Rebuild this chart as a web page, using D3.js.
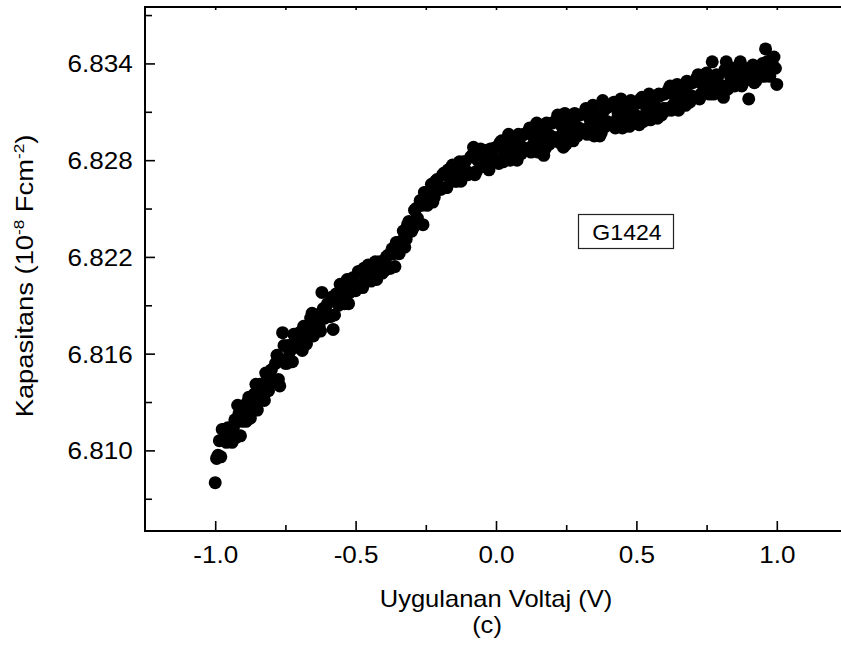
<!DOCTYPE html>
<html>
<head>
<meta charset="utf-8">
<script src="https://cdn.jsdelivr.net/npm/d3@7"></script>
<style>
  html, body { margin: 0; padding: 0; background: #fff; }
  svg { display: block; }
  text { font-family: "Liberation Sans", Arial, sans-serif; fill: #000; }
</style>
</head>
<body>
<svg id="chart" width="841" height="649"></svg>
<script>
// Voltage sweep: -1.00 V to +1.00 V, read out in 0.01 V steps on two interleaved passes
const sweepStart = -1.0;
const sweepStep = 0.01;
const halfStepStart = -0.995;

// Capacitance (10^-8 F cm^-2) on the whole-step grid, 10 values per row
const capacitance = [
  6.8080, 6.8097, 6.8096, 6.8113, 6.8105, 6.8113, 6.8105, 6.8119, 6.8128, 6.8109, // -1.00 .. -0.91
  6.8123, 6.8118, 6.8133, 6.8125, 6.8135, 6.8125, 6.8141, 6.8136, 6.8148, 6.8137, // -0.90 .. -0.81
  6.8150, 6.8143, 6.8159, 6.8140, 6.8173, 6.8154, 6.8165, 6.8155, 6.8172, 6.8164, // -0.80 .. -0.71
  6.8173, 6.8162, 6.8176, 6.8172, 6.8182, 6.8171, 6.8184, 6.8177, 6.8198, 6.8182, // -0.70 .. -0.61
  6.8191, 6.8183, 6.8175, 6.8197, 6.8190, 6.8199, 6.8191, 6.8206, 6.8198, 6.8207, // -0.60 .. -0.51
  6.8199, 6.8211, 6.8203, 6.8213, 6.8206, 6.8214, 6.8206, 6.8217, 6.8209, 6.8216, // -0.50 .. -0.41
  6.8211, 6.8220, 6.8213, 6.8225, 6.8214, 6.8229, 6.8226, 6.8236, 6.8231, 6.8242, // -0.40 .. -0.31
  6.8236, 6.8249, 6.8244, 6.8255, 6.8240, 6.8260, 6.8254, 6.8265, 6.8257, 6.8268, // -0.30 .. -0.21
  6.8262, 6.8271, 6.8263, 6.8274, 6.8267, 6.8275, 6.8267, 6.8279, 6.8271, 6.8279, // -0.20 .. -0.11
  6.8271, 6.8282, 6.8288, 6.8273, 6.8282, 6.8276, 6.8286, 6.8277, 6.8287, 6.8280, // -0.10 .. -0.01
  6.8288, 6.8278, 6.8292, 6.8283, 6.8289, 6.8280, 6.8291, 6.8287, 6.8296, 6.8284, //  0.00 ..  0.09
  6.8296, 6.8287, 6.8300, 6.8289, 6.8295, 6.8285, 6.8298, 6.8283, 6.8303, 6.8290, //  0.10 ..  0.19
  6.8303, 6.8292, 6.8308, 6.8295, 6.8288, 6.8290, 6.8305, 6.8299, 6.8309, 6.8295, //  0.20 ..  0.29
  6.8308, 6.8298, 6.8312, 6.8300, 6.8306, 6.8295, 6.8309, 6.8295, 6.8317, 6.8301, //  0.30 ..  0.39
  6.8313, 6.8302, 6.8316, 6.8305, 6.8311, 6.8300, 6.8313, 6.8308, 6.8317, 6.8303, //  0.40 ..  0.49
  6.8315, 6.8302, 6.8319, 6.8308, 6.8314, 6.8305, 6.8318, 6.8312, 6.8321, 6.8308, //  0.50 ..  0.59
  6.8321, 6.8311, 6.8326, 6.8314, 6.8321, 6.8311, 6.8325, 6.8319, 6.8329, 6.8316, //  0.60 ..  0.69
  6.8328, 6.8319, 6.8333, 6.8321, 6.8327, 6.8334, 6.8321, 6.8341, 6.8326, 6.8332, //  0.70 ..  0.79
  6.8323, 6.8319, 6.8341, 6.8327, 6.8335, 6.8326, 6.8333, 6.8341, 6.8328, 6.8335, //  0.80 ..  0.89
  6.8318, 6.8335, 6.8328, 6.8338, 6.8332, 6.8340, 6.8349, 6.8337, 6.8342, 6.8344, //  0.90 ..  0.99
  6.8327                                                                           //  1.00
];

// Capacitance on the half-step grid (-0.995 .. 0.995), 10 values per row
const capacitanceHalfStep = [
  6.8095, 6.8106, 6.8113, 6.8108, 6.8114, 6.8107, 6.8114, 6.8108, 6.8123, 6.8118, // -0.995 .. -0.905
  6.8119, 6.8130, 6.8120, 6.8131, 6.8141, 6.8130, 6.8137, 6.8131, 6.8146, 6.8142, // -0.895 .. -0.805
  6.8143, 6.8154, 6.8144, 6.8156, 6.8165, 6.8154, 6.8161, 6.8155, 6.8170, 6.8165, // -0.795 .. -0.705
  6.8166, 6.8177, 6.8166, 6.8176, 6.8185, 6.8174, 6.8181, 6.8174, 6.8188, 6.8183, // -0.695 .. -0.605
  6.8184, 6.8195, 6.8184, 6.8194, 6.8203, 6.8192, 6.8199, 6.8191, 6.8206, 6.8200, // -0.595 .. -0.505
  6.8201, 6.8211, 6.8201, 6.8209, 6.8215, 6.8205, 6.8211, 6.8206, 6.8217, 6.8210, // -0.495 .. -0.405
  6.8212, 6.8221, 6.8213, 6.8222, 6.8229, 6.8222, 6.8230, 6.8226, 6.8240, 6.8236, // -0.395 .. -0.305
  6.8238, 6.8250, 6.8241, 6.8252, 6.8260, 6.8252, 6.8259, 6.8254, 6.8267, 6.8262, // -0.295 .. -0.205
  6.8262, 6.8272, 6.8263, 6.8271, 6.8277, 6.8267, 6.8273, 6.8267, 6.8279, 6.8273, // -0.195 .. -0.105
  6.8272, 6.8283, 6.8271, 6.8280, 6.8287, 6.8276, 6.8282, 6.8274, 6.8287, 6.8281, // -0.095 .. -0.005
  6.8280, 6.8291, 6.8279, 6.8288, 6.8296, 6.8283, 6.8289, 6.8280, 6.8294, 6.8288, //  0.005 ..  0.095
  6.8287, 6.8298, 6.8285, 6.8294, 6.8303, 6.8290, 6.8295, 6.8287, 6.8302, 6.8295, //  0.105 ..  0.195
  6.8294, 6.8305, 6.8291, 6.8301, 6.8309, 6.8295, 6.8301, 6.8292, 6.8307, 6.8300, //  0.205 ..  0.295
  6.8299, 6.8309, 6.8296, 6.8305, 6.8314, 6.8300, 6.8306, 6.8297, 6.8311, 6.8304, //  0.305 ..  0.395
  6.8303, 6.8314, 6.8300, 6.8309, 6.8318, 6.8304, 6.8309, 6.8301, 6.8315, 6.8308, //  0.405 ..  0.495
  6.8307, 6.8318, 6.8304, 6.8313, 6.8321, 6.8308, 6.8314, 6.8306, 6.8320, 6.8312, //  0.505 ..  0.595
  6.8312, 6.8324, 6.8311, 6.8320, 6.8327, 6.8315, 6.8321, 6.8314, 6.8327, 6.8320, //  0.605 ..  0.695
  6.8319, 6.8331, 6.8318, 6.8327, 6.8333, 6.8322, 6.8328, 6.8321, 6.8333, 6.8326, //  0.705 ..  0.795
  6.8326, 6.8336, 6.8324, 6.8332, 6.8337, 6.8327, 6.8332, 6.8326, 6.8337, 6.8331, //  0.805 ..  0.895
  6.8330, 6.8339, 6.8329, 6.8336, 6.8339, 6.8332, 6.8341, 6.8332, 6.8339, 6.8337  //  0.905 ..  0.995
];

// Axis ticks
const xMajorTicks = [-1.0, -0.5, 0.0, 0.5, 1.0];
const xMinorTicks = [-0.75, -0.25, 0.25, 0.75];
const yMajorTicks = [6.810, 6.816, 6.822, 6.828, 6.834];
const yMinorTicks = [6.807, 6.813, 6.819, 6.825, 6.831, 6.837];

// Text labels
const xTitle = "Uygulanan Voltaj (V)";
const panelTag = "(c)";
const sampleName = "G1424";

const points = capacitance.map((c, i) => ({ v: sweepStart + i * sweepStep, c }))
  .concat(capacitanceHalfStep.map((c, i) => ({ v: halfStepStart + i * sweepStep, c })));

const svg = d3.select("#chart");
const plot = { left: 145, right: 847, top: 7, bottom: 531 };
const fontSize = 23.5;
const stretch = 1.11;
const fontStack = "'Liberation Sans', Arial, sans-serif";

const x = d3.scaleLinear().domain([-1.25, 1.25]).range([plot.left, plot.right]);
const y = d3.scaleLinear().domain([6.805, 6.8375]).range([plot.bottom, plot.top]);

// Data points
svg.append("g")
  .selectAll("circle")
  .data(points)
  .join("circle")
  .attr("cx", d => x(d.v))
  .attr("cy", d => y(d.c))
  .attr("r", 6.5)
  .attr("fill", "#000");

function styleAxis(g) {
  g.selectAll(".domain").remove();
  g.selectAll(".tick line").attr("stroke", "#000").attr("stroke-width", 1.6);
}

// Bottom axis: major ticks with labels, minor ticks without (all pointing inward)
const gBottomMajor = svg.append("g").attr("transform", `translate(0,${plot.bottom})`)
  .call(d3.axisBottom(x).tickValues(xMajorTicks).tickSize(-10).tickSizeOuter(0)
    .tickFormat(d => d3.format(".1f")(d).replace("\u2212", "-")));
styleAxis(gBottomMajor);
gBottomMajor.selectAll(".tick text")
  .attr("y", 31.7).attr("dy", 0)
  .attr("transform", `scale(${stretch},1)`)
  .style("font-size", fontSize + "px")
  .style("font-family", fontStack);

const gBottomMinor = svg.append("g").attr("transform", `translate(0,${plot.bottom})`)
  .call(d3.axisBottom(x).tickValues(xMinorTicks).tickSize(-6).tickSizeOuter(0).tickFormat(""));
styleAxis(gBottomMinor);

// Top axis: short inward ticks, no labels
const gTop = svg.append("g").attr("transform", `translate(0,${plot.top})`)
  .call(d3.axisTop(x).tickValues(xMajorTicks.concat(xMinorTicks)).tickSize(-3).tickSizeOuter(0).tickFormat(""));
styleAxis(gTop);

// Left axis: major ticks with labels, minor ticks without
const gLeftMajor = svg.append("g").attr("transform", `translate(${plot.left},0)`)
  .call(d3.axisLeft(y).tickValues(yMajorTicks).tickSize(-10).tickSizeOuter(0).tickPadding(11)
    .tickFormat(d3.format(".3f")));
styleAxis(gLeftMajor);
gLeftMajor.selectAll(".tick text")
  .attr("dy", "0.36em")
  .attr("transform", `scale(${stretch},1)`)
  .style("font-size", fontSize + "px")
  .style("font-family", fontStack);

const gLeftMinor = svg.append("g").attr("transform", `translate(${plot.left},0)`)
  .call(d3.axisLeft(y).tickValues(yMinorTicks).tickSize(-7).tickSizeOuter(0).tickFormat(""));
styleAxis(gLeftMinor);

// Frame lines
const frame = svg.append("g").attr("stroke", "#000").attr("stroke-width", 2).attr("fill", "none");
frame.append("line").attr("x1", plot.left).attr("x2", plot.left).attr("y1", plot.top - 1).attr("y2", plot.bottom + 1);
frame.append("line").attr("x1", plot.left).attr("x2", plot.right).attr("y1", plot.bottom).attr("y2", plot.bottom);
frame.append("line").attr("x1", plot.left).attr("x2", plot.right).attr("y1", plot.top).attr("y2", plot.top);

// Axis titles
svg.append("text")
  .attr("transform", `translate(496,607) scale(${stretch},1)`)
  .attr("text-anchor", "middle")
  .style("font-size", "23px")
  .text(xTitle);
svg.append("text")
  .attr("transform", `translate(487,633) scale(${stretch},1)`)
  .attr("text-anchor", "middle")
  .style("font-size", "23px")
  .text(panelTag);

const yTitle = svg.append("text")
  .attr("transform", `translate(33,276) rotate(-90) scale(1.14,1)`)
  .attr("text-anchor", "middle")
  .style("font-size", "24px");
yTitle.append("tspan").text("Kapasitans (10");
yTitle.append("tspan").attr("dy", -9).style("font-size", "15px").text("-8");
yTitle.append("tspan").attr("dy", 9).text(" Fcm");
yTitle.append("tspan").attr("dy", -9).style("font-size", "15px").text("-2");
yTitle.append("tspan").attr("dy", 9).text(")");

// Sample label box
const box = svg.append("g");
box.append("rect")
  .attr("x", 578.5).attr("y", 214.5).attr("width", 95).attr("height", 34)
  .attr("fill", "#fff").attr("stroke", "#222").attr("stroke-width", 1.2);
box.append("text")
  .attr("transform", `translate(627,239.5) scale(1.05,1)`)
  .attr("text-anchor", "middle")
  .style("font-size", "22px")
  .text(sampleName);
</script>
</body>
</html>
